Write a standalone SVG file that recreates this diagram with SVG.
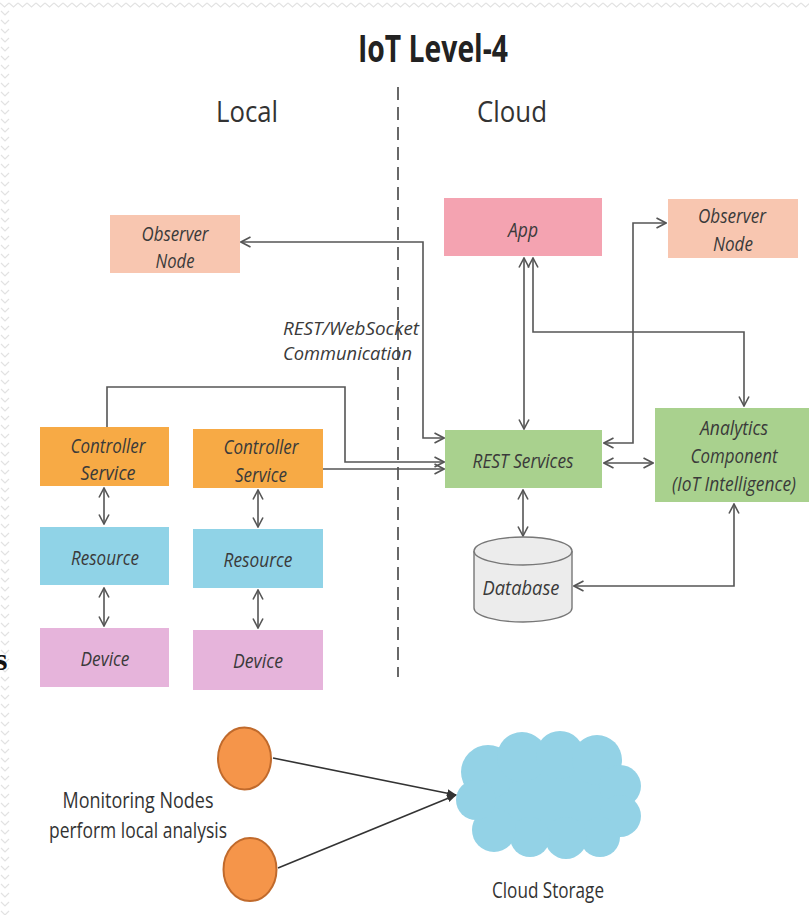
<svg xmlns="http://www.w3.org/2000/svg" width="809" height="915" viewBox="0 0 809 915">
  <style>
    .lb { font-family: "Open Sans", "Liberation Sans", sans-serif; font-style: italic; font-size: 20px; fill: #3a3a3a; text-anchor: middle; }
    .ws { font-family: "Open Sans", "Liberation Sans", sans-serif; font-style: italic; font-size: 18px; fill: #3a3a3a; }
    .pl { font-family: "Open Sans", "Liberation Sans", sans-serif; font-size: 22px; fill: #333; text-anchor: middle; }
    .hd { font-family: "Open Sans", "Liberation Sans", sans-serif; font-size: 30px; fill: #333; text-anchor: middle; }
    .cn { fill: none; stroke: #555; stroke-width: 1.6; }
    .bi { marker-start: url(#chev); marker-end: url(#chev); }
    .to { marker-end: url(#chev); }
  </style>
  <defs>
    <marker id="chev" viewBox="0 0 12 12" refX="11" refY="6" markerWidth="12" markerHeight="12" markerUnits="userSpaceOnUse" orient="auto-start-reverse">
      <path d="M1.5,1 L11,6 L1.5,11" fill="none" stroke="#555" stroke-width="1.6"/>
    </marker>
    <marker id="tri" viewBox="0 0 10 10" refX="9" refY="5" markerWidth="10" markerHeight="10" markerUnits="userSpaceOnUse" orient="auto">
      <path d="M0,1 L10,5 L0,9 Z" fill="#333"/>
    </marker>
    <pattern id="zzTop" width="9" height="10" patternUnits="userSpaceOnUse">
      <path d="M0,3 L4.5,7 L9,3" fill="none" stroke="#e2e2e2" stroke-width="1.2"/>
    </pattern>
    <pattern id="zzLeft" width="10" height="9" patternUnits="userSpaceOnUse">
      <path d="M1,2 L5,6 L9,2" fill="none" stroke="#e2e2e2" stroke-width="1.2"/>
    </pattern>
  </defs>

  <!-- page background with zigzag edge trim -->
  <rect width="809" height="915" fill="#fff"/>
  <rect x="0" y="0" width="809" height="10" fill="url(#zzTop)"/>
  <rect x="0" y="10" width="10" height="905" fill="url(#zzLeft)"/>
  <text x="-5" y="670" font-family="Liberation Serif, serif" font-weight="bold" font-size="32" fill="#111">s</text>

  <!-- headings -->
  <text x="433" y="62" font-family="Open Sans, Liberation Sans, sans-serif" font-weight="bold" font-size="38" fill="#222" text-anchor="middle" textLength="150" lengthAdjust="spacingAndGlyphs">IoT Level-4</text>
  <text class="hd" x="247" y="122" textLength="62" lengthAdjust="spacingAndGlyphs">Local</text>
  <text class="hd" x="512" y="122" textLength="70" lengthAdjust="spacingAndGlyphs">Cloud</text>

  <!-- local / cloud divider -->
  <line x1="398" y1="87" x2="398" y2="677" stroke="#444" stroke-width="1.6" stroke-dasharray="13,7"/>

  <!-- connectors -->
  <g id="connectors">
    <path class="cn bi" d="M444,438 H423 V242 H241"/>
    <path class="cn to" d="M107,427 V387 H345 V462 H444"/>
    <path class="cn to" d="M323,469 H444"/>
    <path class="cn bi" d="M524,258 V429"/>
    <path class="cn bi" d="M533,258 V332 H744 V406"/>
    <path class="cn bi" d="M604,443 H633 V223 H666"/>
    <path class="cn bi" d="M604,463 H653"/>
    <path class="cn bi" d="M523,490 V536"/>
    <path class="cn bi" d="M734,504 V586 H574"/>
    <path class="cn bi" d="M104,488 V524"/>
    <path class="cn bi" d="M258,490 V527"/>
    <path class="cn bi" d="M104,588 V626"/>
    <path class="cn bi" d="M258,590 V628"/>
    <path d="M273,758 L456,795" fill="none" stroke="#333" stroke-width="1.6" marker-end="url(#tri)"/>
    <path d="M278,868 L456,795" fill="none" stroke="#333" stroke-width="1.6" marker-end="url(#tri)"/>
  </g>

  <g id="observer-local">
    <rect x="110" y="215" width="130" height="58" fill="#f8c6b0"/>
    <text class="lb" x="175" y="241" textLength="67" lengthAdjust="spacingAndGlyphs">Observer</text>
    <text class="lb" x="175" y="268" textLength="39" lengthAdjust="spacingAndGlyphs">Node</text>
  </g>

  <g id="app">
    <rect x="444" y="198" width="158" height="58" fill="#f4a3b1"/>
    <text class="lb" x="523" y="237" textLength="30" lengthAdjust="spacingAndGlyphs">App</text>
  </g>

  <g id="observer-cloud">
    <rect x="668" y="199" width="130" height="59" fill="#f8c6b0"/>
    <text class="lb" x="732" y="223" textLength="68" lengthAdjust="spacingAndGlyphs">Observer</text>
    <text class="lb" x="733" y="251" textLength="40" lengthAdjust="spacingAndGlyphs">Node</text>
  </g>

  <g id="rest-services">
    <rect x="445" y="430" width="157" height="58" fill="#a9d18e"/>
    <text class="lb" x="523" y="468" textLength="101" lengthAdjust="spacingAndGlyphs">REST Services</text>
  </g>

  <g id="analytics">
    <rect x="655" y="408" width="154" height="94" fill="#a9d18e"/>
    <text class="lb" x="734" y="435" textLength="68" lengthAdjust="spacingAndGlyphs">Analytics</text>
    <text class="lb" x="734" y="463" textLength="87" lengthAdjust="spacingAndGlyphs">Component</text>
    <text class="lb" x="734" y="491" textLength="124" lengthAdjust="spacingAndGlyphs">(IoT Intelligence)</text>
  </g>

  <g id="database">
    <path d="M474,551 V608 A49,14 0 0 0 572,608 V551" fill="#ececec" stroke="#777" stroke-width="1.4"/>
    <ellipse cx="523" cy="551" rx="49" ry="14" fill="#ececec" stroke="#777" stroke-width="1.4"/>
    <text class="lb" x="521" y="595" textLength="77" lengthAdjust="spacingAndGlyphs">Database</text>
  </g>

  <g id="ws-label">
    <text class="ws" x="283" y="335" textLength="136" lengthAdjust="spacingAndGlyphs">REST/WebSocket</text>
    <text class="ws" x="283" y="360" textLength="129" lengthAdjust="spacingAndGlyphs">Communication</text>
  </g>

  <g id="controller-1">
    <rect x="40" y="427" width="129" height="59" fill="#f7aa45"/>
    <text class="lb" x="108" y="453" textLength="75" lengthAdjust="spacingAndGlyphs">Controller</text>
    <text class="lb" x="108" y="480" textLength="55" lengthAdjust="spacingAndGlyphs">Service</text>
  </g>
  <g id="controller-2">
    <rect x="193" y="429" width="130" height="59" fill="#f7aa45"/>
    <text class="lb" x="261" y="454" textLength="75" lengthAdjust="spacingAndGlyphs">Controller</text>
    <text class="lb" x="261" y="482" textLength="52" lengthAdjust="spacingAndGlyphs">Service</text>
  </g>
  <g id="resource-1">
    <rect x="40" y="527" width="129" height="58" fill="#90d3e7"/>
    <text class="lb" x="105" y="565" textLength="68" lengthAdjust="spacingAndGlyphs">Resource</text>
  </g>
  <g id="resource-2">
    <rect x="193" y="529" width="130" height="59" fill="#90d3e7"/>
    <text class="lb" x="258" y="567" textLength="69" lengthAdjust="spacingAndGlyphs">Resource</text>
  </g>
  <g id="device-1">
    <rect x="40" y="628" width="129" height="59" fill="#e6b4db"/>
    <text class="lb" x="105" y="666" textLength="49" lengthAdjust="spacingAndGlyphs">Device</text>
  </g>
  <g id="device-2">
    <rect x="193" y="630" width="130" height="60" fill="#e6b4db"/>
    <text class="lb" x="258" y="668" textLength="50" lengthAdjust="spacingAndGlyphs">Device</text>
  </g>

  <g id="monitoring-nodes">
    <ellipse cx="244.5" cy="758.5" rx="26.5" ry="31" fill="#f5954a" stroke="#c06a2c" stroke-width="2"/>
    <ellipse cx="250" cy="869.5" rx="26.5" ry="31.5" fill="#f5954a" stroke="#c06a2c" stroke-width="2"/>
    <text class="pl" x="138" y="808" textLength="151" lengthAdjust="spacingAndGlyphs">Monitoring Nodes</text>
    <text class="pl" x="138" y="838" textLength="178" lengthAdjust="spacingAndGlyphs">perform local analysis</text>
  </g>

  <g id="cloud-storage" fill="#93d2e6">
    <ellipse cx="548" cy="797" rx="80" ry="50"/>
    <circle cx="488" cy="772" r="27"/>
    <circle cx="522" cy="757" r="25"/>
    <circle cx="560" cy="755" r="24"/>
    <circle cx="597" cy="760" r="25"/>
    <circle cx="620" cy="786" r="21"/>
    <circle cx="620" cy="816" r="21"/>
    <circle cx="600" cy="837" r="20"/>
    <circle cx="566" cy="838" r="21"/>
    <circle cx="530" cy="837" r="20"/>
    <circle cx="494" cy="830" r="22"/>
    <circle cx="476" cy="800" r="20"/>
    <text class="pl" x="548" y="898" textLength="112" lengthAdjust="spacingAndGlyphs" fill="#333">Cloud Storage</text>
  </g>
</svg>
